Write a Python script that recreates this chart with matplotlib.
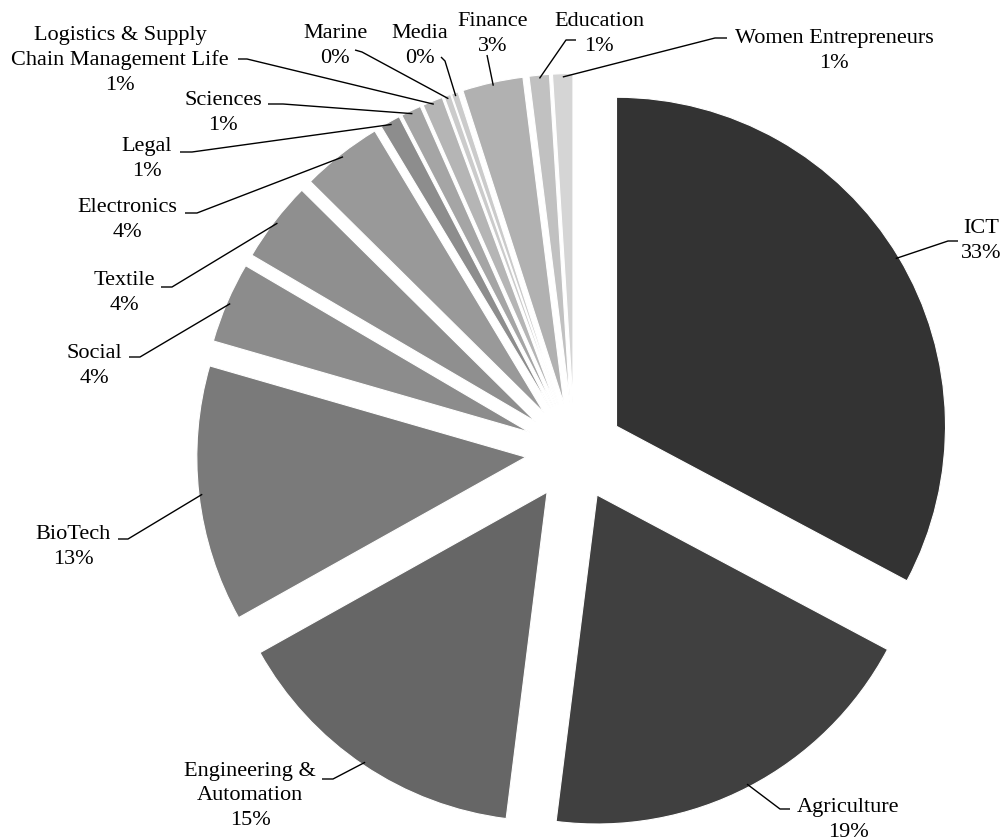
import numpy as np
import matplotlib
matplotlib.use("Agg")
import matplotlib.pyplot as plt

# === Data ===
sectors = ["ICT", "Agriculture", "Engineering &\nAutomation", "BioTech", "Social",
           "Textile", "Electronics", "Legal", "Sciences",
           "Logistics & Supply\nChain Management Life", "Marine", "Media",
           "Finance", "Education", "Women Entrepreneurs"]
counts = [99, 58, 45, 38, 12, 12, 12, 3, 3, 3, 1, 1, 9, 3, 3]
shades = ["#333333", "#404040", "#666666", "#7a7a7a", "#8c8c8c",
          "#8f8f8f", "#999999", "#8d8d8d", "#a5a5a5", "#b5b5b5",
          "#cbcbcb", "#cbcbcb", "#b1b1b1", "#c1c1c1", "#d5d5d5"]

# label layout in pixel units (x centre, baseline of the last line, from top)
label_pos = [(981, 258), (848, 837), (250, 825), (73, 564), (94, 383),
             (124, 310), (127, 237), (147, 176), (223, 130),
             (120, 90), (335, 63), (420, 63),
             (493, 51), (599, 51), (834, 68)]
# leader start (next to text) and elbow, pixel units from top
leader_pts = [((958, 241), (948, 241)), ((790, 809), (780, 809)),
              ((322, 779), (333, 779)), ((118, 539), (128, 539)),
              ((129, 357), (140, 357)), ((161, 287), (172, 287)),
              ((185, 213), (197, 213)), ((180, 152), (192, 152)),
              ((268, 104), (283, 104)), ((238, 59), (247, 59)),
              ((355, 50), (362, 52)), ((441, 57), (445, 61)),
              ((487, 55), (487, 55)), ((576, 40), (566, 40)),
              ((727, 38), (715, 38))]

W, H = 1007, 840
total = sum(counts)

fig = plt.figure(figsize=(W / 100, H / 100), dpi=100)
ax = fig.add_axes([0, 0, 1, 1])

R = 329
cx, cy = 574.5, H - 451.5
wedges, _ = ax.pie(counts, colors=shades, startangle=90, counterclock=False,
                   radius=R, center=(cx, cy), explode=[49] * len(counts),
                   wedgeprops=dict(edgecolor="white", linewidth=0.8))

ax.set_xlim(0, W)
ax.set_ylim(0, H)
ax.set_aspect("equal")
ax.axis("off")

font = dict(family="Liberation Serif", size=16)

for w, name, n, (tx, ty), (p0, p1) in zip(wedges, sectors, counts, label_pos, leader_pts):
    pct = round(100 * n / total)
    ax.text(tx, H - ty, f"{name}\n{pct:.0f}%", ha="center", va="baseline",
            linespacing=1.4, **font)
    mid = np.deg2rad(0.5 * (w.theta1 + w.theta2))
    wx, wy = w.center
    ax_, ay_ = wx + 0.99 * R * np.cos(mid), wy + 0.99 * R * np.sin(mid)
    xs = [p0[0], p1[0], ax_]
    ys = [H - p0[1], H - p1[1], ay_]
    ax.plot(xs, ys, color="black", lw=1.0, solid_capstyle="butt")

plt.savefig("out.png", dpi=100)
